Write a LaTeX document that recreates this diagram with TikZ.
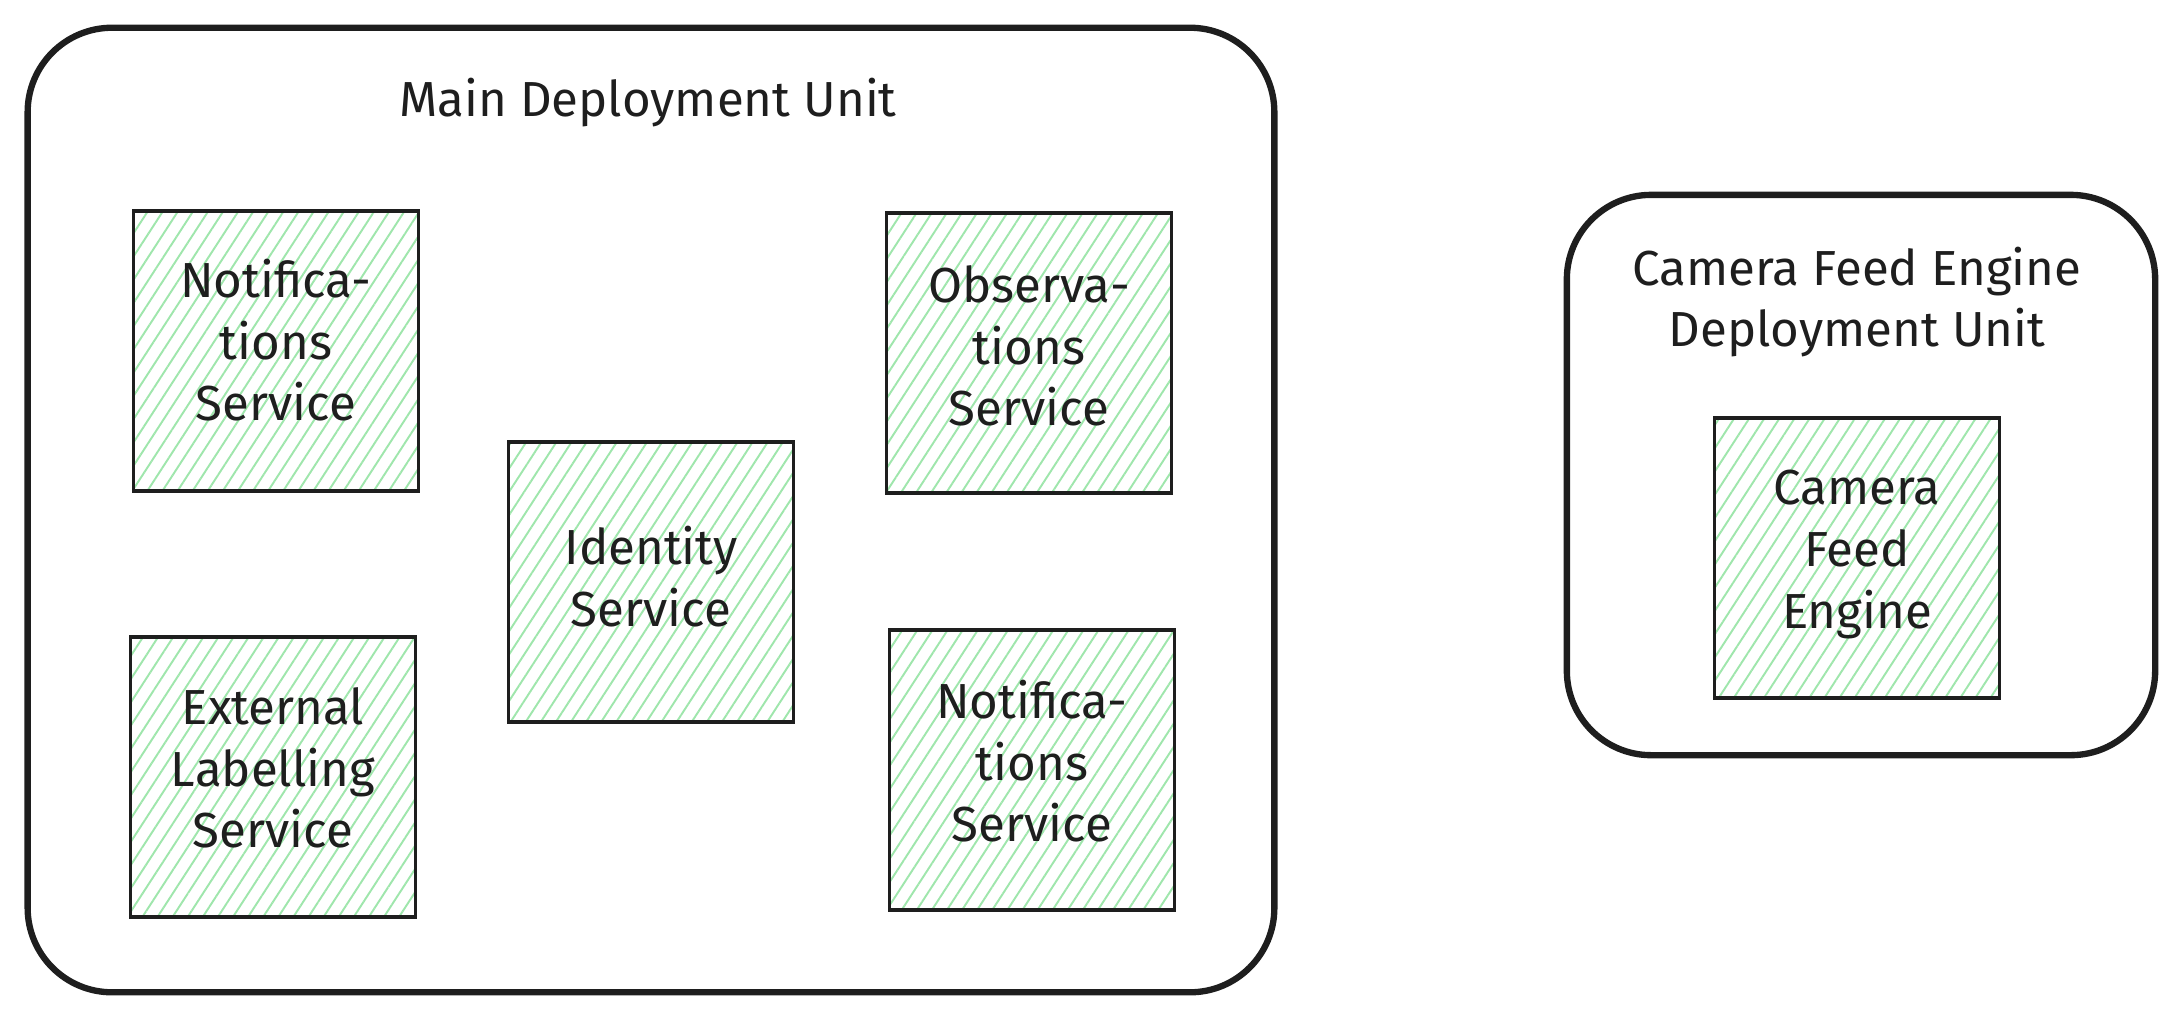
\documentclass[tikz,border=0pt]{standalone}
\usepackage{fontspec}
\setmainfont{Fira Sans}
\usetikzlibrary{patterns.meta}
\definecolor{hatch}{HTML}{9FE6AC}
\definecolor{ink}{HTML}{1E1E1E}
\tikzset{
  container/.style={draw=ink, line width=1.8pt, rounded corners=24pt, anchor=center},
  svcbox/.style={draw=ink, line width=1pt, anchor=center,
    minimum width=2.85cm, minimum height=2.8cm, align=center,
    pattern={Lines[angle=57,distance=3.6pt,line width=0.55pt]}, pattern color=hatch},
  svctext/.style={anchor=center, align=center, font=\fontsize{14}{17.5}\selectfont, text=ink},
  ttl/.style={anchor=center, align=center, font=\fontsize{14}{17.5}\selectfont, text=ink}
}
\begin{document}
\begin{tikzpicture}[x=0.01cm,y=-0.01cm]
\useasboundingbox (0,0) rectangle (2184,1020);
\node[container, minimum width=12.46cm, minimum height=9.64cm] (main) at (651,510) {};
\node[container, minimum width=5.88cm, minimum height=5.6cm] (cam) at (1861,475) {};
\node[ttl] (maint) at (648,103) {Main Deployment Unit};
\node[ttl] (camt) at (1857,302) {Camera Feed Engine\\Deployment Unit};
\node[svcbox] (n1) at (276,351) {};
\node[svctext] (n1t) at ([yshift=3pt]n1.center) {Notifica-\\tions\\Service};
\node[svcbox] (obs) at (1029,353) {};
\node[svctext] (obst) at ([yshift=2pt]obs.center) {Observa-\\tions\\Service};
\node[svcbox] (id) at (651,582) {};
\node[svctext] (idt) at ([yshift=1.5pt]id.center) {Identity\\Service};
\node[svcbox] (ext) at (273,777) {};
\node[svctext] (extt) at ([yshift=2.5pt]ext.center) {External\\Labelling\\Service};
\node[svcbox] (n2) at (1032,770) {};
\node[svctext] (n2t) at ([yshift=2.5pt]n2.center) {Notifica-\\tions\\Service};
\node[svcbox] (cfe) at (1857,558) {};
\node[svctext] (cfet) at ([yshift=1pt]cfe.center) {Camera\\Feed\\Engine};
\end{tikzpicture}
\end{document}
